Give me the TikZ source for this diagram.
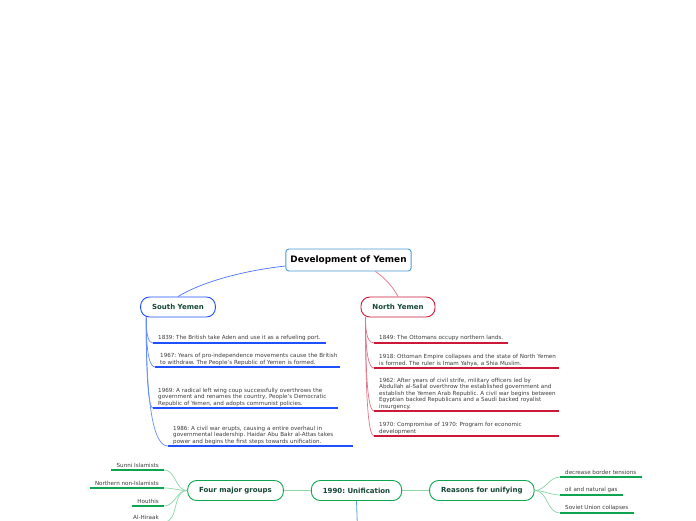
\documentclass[tikz,border=0pt]{standalone}
\usepackage{fontspec}
\setmainfont{DejaVu Sans}
\frenchspacing
\definecolor{rootblue}{RGB}{74,155,214}
\definecolor{southblue}{RGB}{30,80,255}
\definecolor{southtwig}{RGB}{100,140,255}
\definecolor{northred}{RGB}{205,25,55}
\definecolor{northtwig}{RGB}{224,115,135}
\definecolor{unigreen}{RGB}{15,165,80}
\definecolor{unitwig}{RGB}{140,215,170}
\definecolor{topicink}{RGB}{20,70,55}
\definecolor{leafink}{RGB}{60,60,60}
\definecolor{trunkblue}{RGB}{90,155,225}
\usetikzlibrary{positioning}
\newcommand{\leaflines}[1]{\begin{tabular}{@{}l@{}}#1\end{tabular}}

\begin{document}
\begin{tikzpicture}[
  x=1pt, y=-1pt,
  node distance=27pt,
  rootbox/.style={draw=rootblue, line width=0.9pt, rounded corners=3pt, fill=white, font=\bfseries\fontsize{8.9}{10}\selectfont, minimum height=22pt, inner xsep=4.5pt},
  topic/.style={draw=#1, line width=0.9pt, rounded corners=9pt, fill=white, text=topicink, font=\bfseries\fontsize{7}{8}\selectfont, minimum height=20pt, inner xsep=11.5pt},
  leaf/.style={anchor=south west, text=leafink, font=\fontsize{5.6}{6.5}\selectfont, align=left, inner xsep=5pt, inner ysep=2.5pt},
  leafl/.style={leaf, anchor=south east},
  wide/.style={text width=175pt, inner xsep=5pt, inner ysep=0.8pt},
  under/.style={line width=1.4pt},
  twig/.style={line width=0.7pt}
]
\clip (0,0) rectangle (696,520);
\fill[white] (0,0) rectangle (696,520);

\node[rootbox] (root) at (348.5,260) {Development of Yemen};
\node[topic=southblue] (south) at (178,307) {South Yemen};
\node[topic=northred] (north) at (398,307) {North Yemen};
\node[topic=unigreen] (unify) at (356.5,490.5) {1990: Unification};
\node[topic=unigreen, left=of unify] (groups) {Four major groups};
\node[topic=unigreen, right=of unify] (reasons) {Reasons for unifying};

\draw[twig, southblue!80] ([yshift=-6pt]root.west) .. controls (240,271) and (200,283) .. (south.north);
\draw[twig, northtwig] ([xshift=27pt]root.south) .. controls (386,279) and (393,287) .. (north.north);

\node[leaf] (s1) at (153,343) {1839: The British take Aden and use it as a refueling port.};
\node[leaf, wide] (s2) at (155,367) {\leaflines{1967: Years of pro-independence movements cause the British\\to withdraw. The People's Republic of Yemen is formed.}};
\node[leaf, wide] (s3) at (153,408) {\leaflines{1969: A radical left wing coup successfully overthrows the\\government and renames the country, People's Democratic\\Republic of Yemen, and adopts communist policies.}};
\node[leaf, wide] (s4) at (168,446) {\leaflines{1986: A civil war erupts, causing a entire overhaul in\\governmental leadership. Haidar Abu Bakr al-Attas takes\\power and begins the first steps towards unification.}};

\node[leaf] (n1) at (374,343) {1849: The Ottomans occupy northern lands.};
\node[leaf, wide] (n2) at (374,368) {\leaflines{1918: Ottoman Empire collapses and the state of North Yemen\\is formed. The ruler is Imam Yahya, a Shia Muslim.}};
\node[leaf, wide] (n3) at (374,411) {\leaflines{1962: After years of civil strife, military officers led by\\Abdullah al-Sallal overthrow the established government and\\establish the Yemen Arab Republic. A civil war begins between\\Egyptian backed Republicans and a Saudi backed royalist\\insurgency.}};
\node[leaf, wide] (n4) at (374,436) {\leaflines{1970: Compromise of 1970: Program for economic\\development}};

\node[leafl] (g1) at (164,470) {Sunni Islamists};
\node[leafl] (g2) at (164,488) {Northern non-Islamists};
\node[leafl] (g3) at (164,506) {Houthis};
\node[leafl] (g4) at (164,522) {Al-Hiraak};

\node[leaf] (r1) at (560,477) {decrease border tensions};
\node[leaf] (r2) at (560,495) {oil and natural gas};
\node[leaf] (r3) at (560,513) {Soviet Union collapses};

\coordinate (sfork) at ([xshift=6pt]south.south west);
\coordinate (nfork) at ([xshift=5pt]north.south west);
\coordinate (trunkend) at (357.5,530);

\foreach \n/\d/\h in {s1/20/4, s2/38/5, s3/68/4, s4/97/13} {
  \draw[twig, southtwig] (sfork) .. controls +(0,\d) and +(-\h,0) .. (\n.south west);
  \draw[under, southblue] (\n.south west) -- (\n.south east);
}
\foreach \n/\d/\h in {n1/20/5, n2/38/5, n3/70/5, n4/89/5} {
  \draw[twig, northtwig] (nfork) .. controls +(0,\d) and +(-\h,0) .. (\n.south west);
  \draw[under, northred] (\n.south west) -- (\n.south east);
}
\foreach \n in {g1,g2,g3,g4} {
  \draw[twig, unitwig] (groups.west) to[out=180, in=0] (\n.south east);
  \draw[under, unigreen] (\n.south west) -- (\n.south east);
}
\foreach \n in {r1,r2,r3} {
  \draw[twig, unitwig] (reasons.east) to[out=0, in=180] (\n.south west);
  \draw[under, unigreen] (\n.south west) -- (\n.south east);
}

\draw[twig, unitwig, line width=1pt] (unify) -- (groups);
\draw[twig, unitwig, line width=1pt] (unify) -- (reasons);
\draw[twig, trunkblue, line width=0.8pt] (unify.south) -- (trunkend);
\end{tikzpicture}
\end{document}
